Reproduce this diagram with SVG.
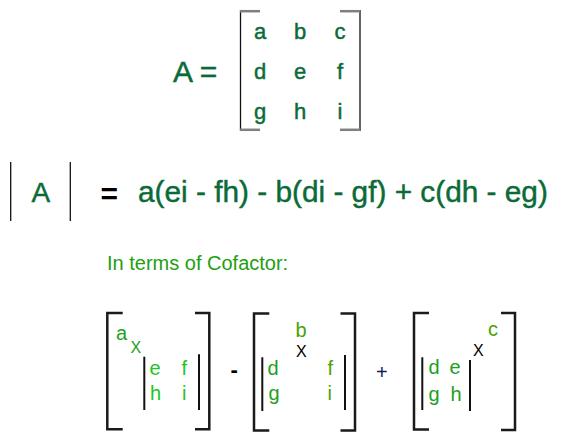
<svg xmlns="http://www.w3.org/2000/svg" width="588" height="446" viewBox="0 0 588 446">
<style>
text{font-family:"Liberation Sans",Arial,sans-serif}
.dk{fill:#0b6b38;stroke:#0b6b38;stroke-width:0.45}
.br{stroke:#1a1a1a;stroke-width:2.5;fill:none;stroke-linecap:butt}
.bar{stroke:#111;stroke-width:2;fill:none}
.thin{stroke:#111;stroke-width:1.3;fill:none}
.gs{stroke:#808080;stroke-width:2.5;fill:none}
.m{font-size:22px;text-anchor:middle}
.s{font-size:20px}
.x{font-size:16px}
.g1{fill:#1f9f1f}
.g2{fill:#22c422}
.g3{fill:#22a022}
.g4{fill:#4aa300}
</style>
<rect width="588" height="446" fill="#ffffff"/>

<g id="matrixA">
  <text x="173" y="82" class="dk" font-size="30">A =</text>
  <line x1="240.5" y1="10" x2="240.5" y2="131" class="thin"/>
  <line x1="240" y1="11.2" x2="260" y2="11.2" class="gs"/>
  <line x1="240" y1="129.8" x2="260" y2="129.8" class="gs"/>
  <line x1="360" y1="10" x2="360" y2="131" class="thin"/>
  <line x1="340" y1="11.2" x2="360" y2="11.2" class="gs"/>
  <line x1="340" y1="129.8" x2="360" y2="129.8" class="gs"/>
  <text x="260" y="38.5" class="m dk">a</text>
  <text x="300" y="38.5" class="m dk">b</text>
  <text x="340" y="38.5" class="m dk">c</text>
  <text x="260" y="78.5" class="m dk">d</text>
  <text x="300" y="78.5" class="m dk">e</text>
  <text x="340" y="78.5" class="m dk">f</text>
  <text x="260" y="118.5" class="m dk">g</text>
  <text x="300" y="118.5" class="m dk">h</text>
  <text x="340" y="118.5" class="m dk">i</text>
</g>

<g id="determinant">
  <line x1="10.7" y1="162" x2="10.7" y2="221" class="thin"/>
  <line x1="70.3" y1="162" x2="70.3" y2="221" class="thin"/>
  <text x="31.5" y="202" class="dk" font-size="28">A</text>
  <text x="100.5" y="204" font-size="30" font-weight="bold" fill="#000">=</text>
  <text x="138" y="202" class="dk" font-size="29.8">a(ei - fh) - b(di - gf) + c(dh - eg)</text>
</g>

<g id="caption">
  <text x="107" y="270" font-size="20" fill="#22a010">In terms of Cofactor:</text>
</g>

<g id="cofactor1">
  <path d="M122.7,313 H107.3 V429.3 H122.7" class="br"/>
  <path d="M195,313 H209.3 V429.3 H195" class="br"/>
  <line x1="144.3" y1="356.7" x2="144.3" y2="410" class="bar"/>
  <line x1="199" y1="354.3" x2="199" y2="410" class="bar"/>
  <text x="116" y="339.5" class="s g1">a</text>
  <text x="130.5" y="353.3" class="x g1">X</text>
  <text x="149.5" y="375" class="s g2">e</text>
  <text x="181.5" y="375" class="s g2">f</text>
  <text x="150" y="400" class="s g2">h</text>
  <text x="182" y="400" class="s g2">i</text>
</g>

<g id="op-minus">
  <text x="230.5" y="377" font-size="22" font-weight="bold" fill="#000">-</text>
</g>

<g id="cofactor2">
  <path d="M269.3,313.5 H254 V430.5 H269.3" class="br"/>
  <path d="M340.5,313.5 H355 V430.5 H340.5" class="br"/>
  <line x1="262.3" y1="357.3" x2="262.3" y2="411" class="bar"/>
  <line x1="345" y1="355" x2="345" y2="410" class="bar"/>
  <text x="295.5" y="336.5" class="s g4">b</text>
  <text x="296" y="356.7" class="x" fill="#000">X</text>
  <text x="267.5" y="375" class="s g3">d</text>
  <text x="327.5" y="375" class="s g4">f</text>
  <text x="268.5" y="400" class="s g3">g</text>
  <text x="327.5" y="400" class="s g4">i</text>
</g>

<g id="op-plus">
  <text x="376" y="379" font-size="20" fill="#10205a">+</text>
</g>

<g id="cofactor3">
  <path d="M429,313 H414 V429.5 H429" class="br"/>
  <path d="M501,313 H515 V430 H501" class="br"/>
  <line x1="422.3" y1="357.3" x2="422.3" y2="410" class="bar"/>
  <line x1="470" y1="360" x2="470" y2="411" class="bar"/>
  <text x="488" y="335.5" class="s g4">c</text>
  <text x="473" y="355.7" class="x" fill="#000">X</text>
  <text x="428.5" y="374" class="s g3">d</text>
  <text x="449.5" y="374" class="s g3">e</text>
  <text x="428.5" y="401" class="s g3">g</text>
  <text x="450.5" y="401" class="s g3">h</text>
</g>
</svg>
